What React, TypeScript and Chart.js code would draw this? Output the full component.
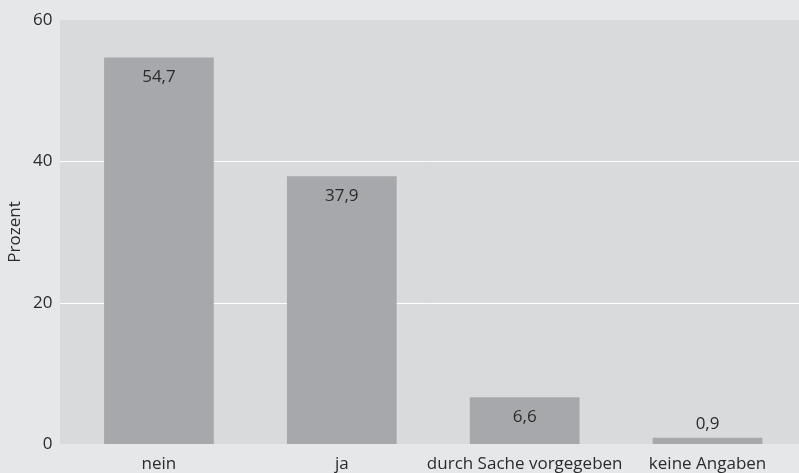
import React, { useEffect, useRef } from "react";
import { Chart, registerables } from "chart.js";

Chart.register(...registerables);

const categories = ["nein", "ja", "durch Sache vorgegeben", "keine Angaben"];
const values = [54.7, 37.9, 6.6, 0.9];
const yTicks = [0, 20, 40, 60];
const yTitle = "Prozent";

const FONT = "'Open Sans', sans-serif";
const TEXT = "#2b2b2b";

const bgPlugin = {
  id: "plotBg",
  beforeDraw(chart: any) {
    const { ctx, chartArea, scales } = chart;
    ctx.save();
    ctx.fillStyle = "#e6e7e9";
    ctx.fillRect(0, 0, chart.width, chart.height);
    const left = chartArea.left - 7.5;
    ctx.fillStyle = "#d9dadc";
    ctx.fillRect(left, chartArea.top, chartArea.right - left, chartArea.bottom - chartArea.top);
    ctx.strokeStyle = "#ffffff";
    ctx.lineWidth = 1;
    yTicks.forEach((t) => {
      if (t === 0 || t === 60) return;
      const y = Math.round(scales.y.getPixelForValue(t)) + 0.5;
      ctx.beginPath();
      ctx.moveTo(left, y);
      ctx.lineTo(chartArea.right, y);
      ctx.stroke();
    });
    ctx.restore();
  },
};

const labelPlugin = {
  id: "valueLabels",
  afterDatasetsDraw(chart: any) {
    const { ctx } = chart;
    const meta = chart.getDatasetMeta(0);
    ctx.save();
    ctx.fillStyle = TEXT;
    ctx.font = `17px ${FONT}`;
    ctx.textAlign = "center";
    ctx.textBaseline = "middle";
    meta.data.forEach((bar: any, i: number) => {
      const h = bar.base - bar.y;
      const txt = values[i].toFixed(1).replace(".", ",");
      const y = h > 30 ? bar.y + 20 : bar.y - 13;
      ctx.fillText(txt, bar.x, y);
    });
    ctx.restore();
  },
};

export default function App() {
  const ref = useRef<HTMLCanvasElement>(null);
  useEffect(() => {
    document.body.style.margin = "0";
    const chart = new Chart(ref.current!, {
      type: "bar",
      data: {
        labels: categories,
        datasets: [
          {
            data: values,
            backgroundColor: "#a7a8ab",
            barPercentage: 0.6,
            categoryPercentage: 1,
          },
        ],
      },
      options: {
        animation: false,
        responsive: false,
        maintainAspectRatio: false,
        layout: { padding: { top: 20, right: 0, bottom: 0, left: 0 } },
        plugins: { legend: { display: false }, tooltip: { enabled: false } },
        scales: {
          x: {
            grid: { display: false, drawTicks: false },
            border: { display: false },
            ticks: { color: TEXT, font: { family: FONT, size: 17 }, padding: 10, maxRotation: 0, autoSkip: false },
            afterFit(scale: any) {
              scale.height = 29;
              scale.paddingLeft = 0;
              scale.paddingRight = 0;
            },
          },
          y: {
            min: 0,
            max: 60,
            grid: { display: false, drawTicks: false },
            border: { display: false },
            ticks: { stepSize: 20, color: TEXT, font: { family: FONT, size: 17 }, padding: 15 },
            title: { display: true, text: yTitle, color: TEXT, font: { family: FONT, size: 17 }, padding: { top: 5, bottom: 0 } },
            afterFit(scale: any) {
              scale.width = 67.5;
              scale.paddingTop = 0;
              scale.paddingBottom = 0;
            },
          },
        },
      },
      plugins: [bgPlugin, labelPlugin],
    });
    return () => chart.destroy();
  }, []);
  return (
    <div style={{ position: "absolute", left: 0, top: 0 }}>
      <canvas ref={ref} width={799} height={473} style={{ display: "block" }} />
    </div>
  );
}
